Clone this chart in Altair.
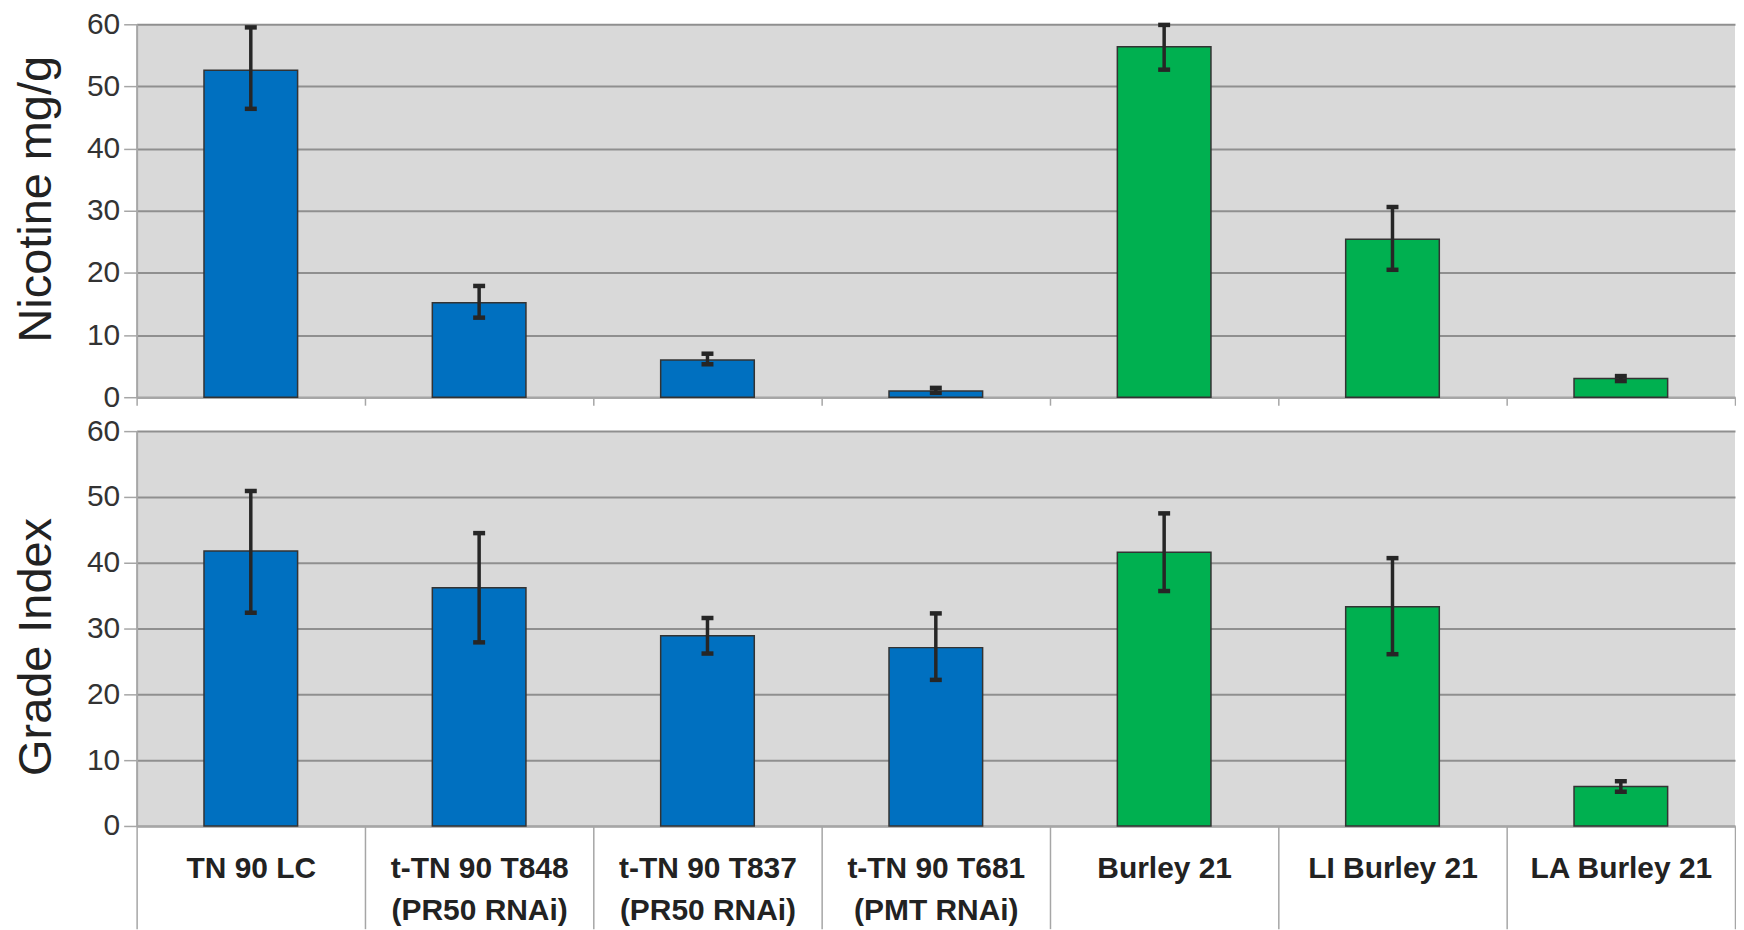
import altair as alt
import pandas as pd

categories = [
    "TN 90 LC",
    "t-TN 90 T848|(PR50 RNAi)",
    "t-TN 90 T837|(PR50 RNAi)",
    "t-TN 90 T681|(PMT RNAi)",
    "Burley 21",
    "LI Burley 21",
    "LA Burley 21",
]
groups = ["TN 90", "TN 90", "TN 90", "TN 90", "Burley", "Burley", "Burley"]

nicotine = [52.6, 15.2, 6.0, 1.0, 56.4, 25.4, 3.0]
nicotine_lo = [46.4, 12.8, 5.3, 0.7, 52.7, 20.5, 2.6]
nicotine_hi = [59.5, 17.9, 7.0, 1.5, 59.9, 30.6, 3.4]

grade = [41.8, 36.2, 28.9, 27.1, 41.6, 33.3, 6.0]
grade_lo = [32.4, 27.9, 26.2, 22.2, 35.7, 26.1, 5.2]
grade_hi = [50.9, 44.5, 31.6, 32.3, 47.5, 40.7, 6.8]

y_ticks = [0, 10, 20, 30, 40, 50, 60]

GRID = "#8f8f8f"
AXIS = "#a6a6a6"
ERR = "#262626"
REG = "Liberation Sans, Arial, sans-serif"


def panel(vals, lo, hi, title, height, bottom, title_y):
    df = pd.DataFrame({"cat": categories, "grp": groups, "val": vals, "lo": lo, "hi": hi})
    x_axis = alt.Axis(
        title=None,
        tickBand="extent",
        grid=False,
        labels=bottom,
        labelExpr="split(datum.label, '|')",
        labelAngle=0,
        labelFont=REG,
        labelFontSize=30,
        labelFontWeight="bold",
        labelColor="#222222",
        labelLimit=400,
        labelPadding=-75,
        labelLineHeight=42,
        tickSize=103 if bottom else 8,
        tickColor=AXIS,
        tickWidth=1.5,
        domainColor=AXIS,
        domainWidth=2,
    )
    x = alt.X("cat:N", sort=categories, scale=alt.Scale(paddingInner=0, paddingOuter=0), axis=x_axis, title=None)
    y_scale = alt.Scale(domain=[0, 60], nice=False)
    y_axis = alt.Axis(
        title=title,
        values=y_ticks,
        titleFont=REG,
        titleFontSize=47,
        titleFontWeight="normal",
        titleColor="#222222",
        titlePadding=26,
        titleY=title_y,
        labelFont=REG,
        labelFontSize=30,
        labelColor="#333333",
        labelPadding=4,
        tickSize=13,
        tickColor=AXIS,
        tickWidth=1.5,
        domainColor=AXIS,
        domainWidth=2,
        gridColor=GRID,
        gridWidth=2,
    )
    base = alt.Chart(df)
    bars = base.mark_bar(width=alt.RelativeBandSize(0.41), stroke="#333333", strokeWidth=1.5).encode(
        x=x,
        y=alt.Y("val:Q", scale=y_scale, axis=y_axis, title=title),
        color=alt.Color("grp:N", scale=alt.Scale(domain=["TN 90", "Burley"], range=["#0070c0", "#00b050"]), legend=None),
    )
    stems = base.mark_rule(color=ERR, strokeWidth=3.5).encode(
        x=x, y=alt.Y("lo:Q", scale=y_scale, axis=y_axis, title=title), y2="hi:Q"
    )
    cap_hi = base.mark_tick(color=ERR, thickness=4.5, size=12, opacity=1).encode(
        x=x, y=alt.Y("hi:Q", scale=y_scale, axis=y_axis, title=title)
    )
    cap_lo = base.mark_tick(color=ERR, thickness=4.5, size=12, opacity=1).encode(
        x=x, y=alt.Y("lo:Q", scale=y_scale, axis=y_axis, title=title)
    )
    return alt.layer(bars, stems, cap_hi, cap_lo).properties(width=1603, height=height)


top = panel(nicotine, nicotine_lo, nicotine_hi, "Nicotine mg/g", 374, False, 175)
bottom = panel(grade, grade_lo, grade_hi, "Grade Index", 396, True, 216)

chart = alt.vconcat(top, bottom, spacing=34, bounds="flush").properties(
    padding={"left": 4, "top": 0, "right": 0, "bottom": 0}
).configure_view(fill="#d9d9d9", stroke=None)

chart.save("out.html", embed_options={"renderer": "svg", "actions": False})
